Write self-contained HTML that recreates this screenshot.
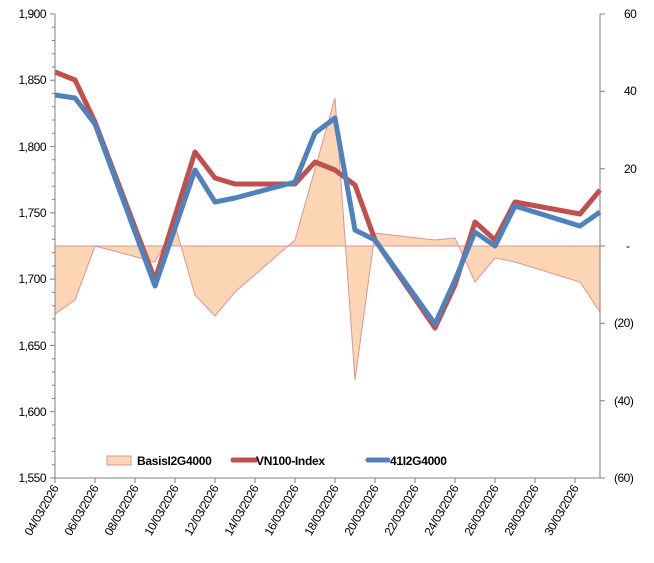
<!DOCTYPE html><html><head><style>body{margin:0;background:#fff}</style></head><body>
<svg width="654" height="558" xmlns="http://www.w3.org/2000/svg" font-family="Liberation Sans, sans-serif" font-size="12">
<rect width="654" height="558" fill="#fff"/>
<polygon fill="#fcd5b5" stroke="#d99694" stroke-width="1" points="55,246 55,314 75,300 95,246 155,262 175,225 195,295 215,316 235,292 295,240 335,98 355,380 375,233 435,240 455,238 475,282 495,258 515,262 580,282 600,312 600,246"/>
<line x1="55" y1="246" x2="600" y2="246" stroke="#d99694" stroke-width="1"/>
<g fill="none" stroke-width="5" stroke-linejoin="round">
<polyline stroke="#c0504d" points="55,72 75,80 95,122 155,280 195,152 215,178 235,184 295,184 315,162 335,170 355,185 375,240 435,328 455,285 475,222 495,240 515,202 580,214 600,190"/>
<polyline stroke="#4f81bd" points="55,95 75,98 95,124 155,286 195,170 215,202 235,198 295,182 315,133 335,118 355,230 375,240 435,324 455,280 475,232 495,246 515,206 580,226 600,212"/>
</g>
<g stroke="#808080" stroke-width="1">
<line x1="55" y1="14" x2="55" y2="478"/><line x1="600" y1="14" x2="600" y2="478"/><line x1="55" y1="478" x2="600" y2="478"/>
</g>
<g stroke="#808080">
<path d="M50 14h5M50 80.3h5M50 146.6h5M50 212.9h5M50 279.1h5M50 345.4h5M50 411.7h5M50 478h5"/>
<path d="M52 27.3h3M52 40.5h3M52 53.8h3M52 67h3M52 93.5h3M52 106.8h3M52 120h3M52 133.3h3M52 159.8h3M52 173h3M52 186.3h3M52 199.6h3M52 226.1h3M52 239.4h3M52 252.6h3M52 265.9h3M52 292.4h3M52 305.7h3M52 318.9h3M52 332.2h3M52 358.7h3M52 372h3M52 385.2h3M52 398.5h3M52 425h3M52 438.3h3M52 451.5h3M52 464.8h3"/>
<path d="M600 14h5M600 91.3h5M600 168.7h5M600 246h5M600 323.3h5M600 400.7h5M600 478h5"/>
<path d="M55 478v5M95 478v5M135 478v5M175 478v5M215 478v5M255 478v5M295 478v5M335 478v5M375 478v5M415 478v5M455 478v5M495 478v5M535 478v5M575 478v5"/>
</g>
<g text-anchor="end" letter-spacing="-0.5">
<text x="46" y="18">1,900</text><text x="46" y="84">1,850</text><text x="46" y="151">1,800</text><text x="46" y="217">1,750</text><text x="46" y="283">1,700</text><text x="46" y="350">1,650</text><text x="46" y="416">1,600</text><text x="46" y="482">1,550</text>
</g>
<g text-anchor="start" letter-spacing="-0.5">
<text x="624" y="18">60</text><text x="624" y="95">40</text><text x="624" y="173">20</text><text x="626" y="250">-</text><text x="614" y="327">(20)</text><text x="614" y="405">(40)</text><text x="614" y="482">(60)</text>
</g>
<g text-anchor="end" letter-spacing="-0.4">
<text transform="translate(59,488) rotate(-60)">04/03/2026</text>
<text transform="translate(99,488) rotate(-60)">06/03/2026</text>
<text transform="translate(139,488) rotate(-60)">08/03/2026</text>
<text transform="translate(179,488) rotate(-60)">10/03/2026</text>
<text transform="translate(219,488) rotate(-60)">12/03/2026</text>
<text transform="translate(259,488) rotate(-60)">14/03/2026</text>
<text transform="translate(299,488) rotate(-60)">16/03/2026</text>
<text transform="translate(339,488) rotate(-60)">18/03/2026</text>
<text transform="translate(379,488) rotate(-60)">20/03/2026</text>
<text transform="translate(419,488) rotate(-60)">22/03/2026</text>
<text transform="translate(459,488) rotate(-60)">24/03/2026</text>
<text transform="translate(499,488) rotate(-60)">26/03/2026</text>
<text transform="translate(539,488) rotate(-60)">28/03/2026</text>
<text transform="translate(579,488) rotate(-60)">30/03/2026</text>
</g>
<g font-weight="bold" letter-spacing="-0.3">
<rect x="107" y="456" width="24" height="9" fill="#fcd5b5" stroke="#d99694"/>
<text x="137" y="465">BasisI2G4000</text>
<line x1="233" y1="460" x2="256" y2="460" stroke="#c0504d" stroke-width="5" stroke-linecap="round"/>
<text x="256" y="465">VN100-Index</text>
<line x1="368" y1="460" x2="388" y2="460" stroke="#4f81bd" stroke-width="5" stroke-linecap="round"/>
<text x="390" y="465">41I2G4000</text>
</g>
</svg>
</body></html>
